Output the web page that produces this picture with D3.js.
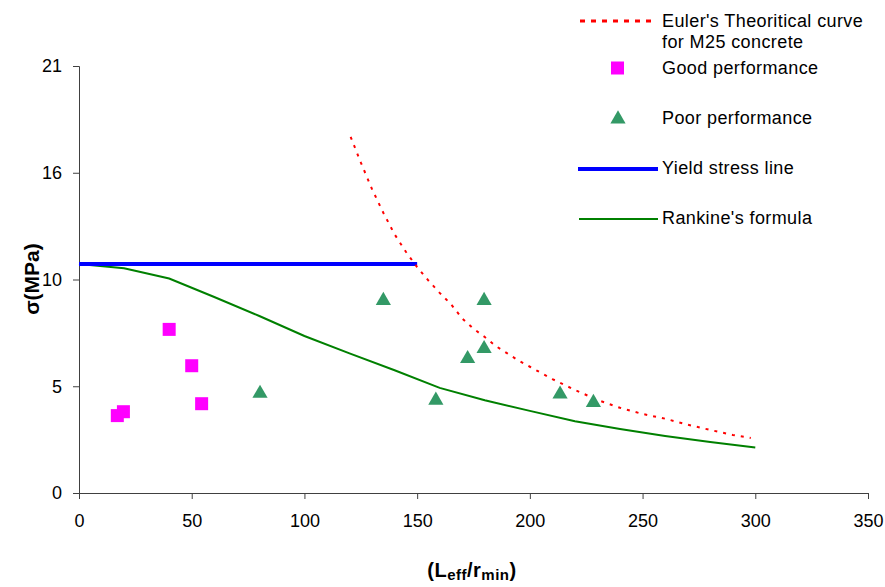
<!DOCTYPE html>
<html><head><meta charset="utf-8">
<script src="https://cdn.jsdelivr.net/npm/d3@7"></script>
<style>body{margin:0;background:#fff}svg{display:block;font-family:"Liberation Sans",Arial,sans-serif}</style>
</head><body>
<svg id="chart" width="885" height="587"></svg>
<script>
// ---- data ----
const eulerX = [120.5,125,130,135,140,145,150,155,160,165,170,175,180,185,190,195,200,210,220,230,240,250,260,270,280,290,298];
const eulerY = [17.35,16.1,14.8,13.65,12.6,11.75,11.0,10.35,9.75,9.2,8.5,8.0,7.6,7.15,6.8,6.45,6.15,5.55,5.02,4.53,4.15,3.85,3.62,3.33,3.07,2.83,2.68];
const goodX = [40, 50, 54.4, 19.7, 17];
const goodY = [7.97, 6.2, 4.35, 3.96, 3.77];
const poorX = [80.3, 135, 158.3, 172.4, 179.7, 179.7, 213.4, 228.2];
const poorY = [4.9, 9.42, 4.56, 6.59, 9.42, 7.08, 4.86, 4.45];
const yieldX = [0, 150];
const yieldY = [11.15, 11.15];
const rankX = [0, 20, 40, 60, 80, 100, 120, 140, 160, 180, 200, 220, 240, 260, 280, 300];
const rankY = [11.15, 10.95, 10.45, 9.55, 8.62, 7.65, 6.8, 5.98, 5.12, 4.52, 4.0, 3.5, 3.12, 2.78, 2.48, 2.22];
const xTicks = [0, 50, 100, 150, 200, 250, 300, 350];
const yTicks = [0, 5.2, 10.4, 15.6, 20.8];
const legendLabels = [["Euler's Theoritical curve", "for M25 concrete"], ["Good performance"], ["Poor performance"], ["Yield stress line"], ["Rankine's formula"]];

// ---- layout ----
const svg = d3.select("#chart");
const x = d3.scaleLinear().domain([0, 350]).range([79, 868]);
const y = d3.scaleLinear().domain([0, 20.8]).range([493, 66]);
const zip = (a, b) => a.map((v, i) => [v, b[i]]);
const line = d3.line().x(d => x(d[0])).y(d => y(d[1]));

// axes
const xa = svg.append("g").attr("transform", "translate(0,493)")
  .call(d3.axisBottom(x).tickValues(xTicks).tickSize(6).tickPadding(15).tickFormat(d3.format("d")));
const ya = svg.append("g").attr("transform", "translate(79,0)")
  .call(d3.axisLeft(y).tickValues(yTicks).tickSize(6).tickPadding(11).tickFormat(d => Math.round(d)));
[xa, ya].forEach(g => {
  g.select(".domain").attr("stroke", "#404040");
  g.selectAll(".tick line").attr("stroke", "#404040");
  g.selectAll("text").attr("font-size", 18).attr("fill", "#000").attr("font-family", '"Liberation Sans",Arial,sans-serif');
});

// series
svg.append("path").datum(zip(rankX, rankY)).attr("d", line)
  .attr("fill", "none").attr("stroke", "#008000").attr("stroke-width", 2);
svg.append("path").datum(zip(yieldX, yieldY)).attr("d", line)
  .attr("fill", "none").attr("stroke", "#0000FF").attr("stroke-width", 4);
svg.append("path").datum(zip(eulerX, eulerY)).attr("d", line)
  .attr("fill", "none").attr("stroke", "#FF0000").attr("stroke-width", 2).attr("stroke-dasharray", "3,6");

svg.append("g").selectAll("rect").data(zip(goodX, goodY)).join("rect")
  .attr("x", d => x(d[0]) - 6.5).attr("y", d => y(d[1]) - 6.5)
  .attr("width", 13).attr("height", 13).attr("fill", "#FF00FF");

const tri = d3.symbol().type(d3.symbolTriangle).size(100);
svg.append("g").selectAll("path").data(zip(poorX, poorY)).join("path")
  .attr("transform", d => `translate(${x(d[0])},${y(d[1]) + 1})`)
  .attr("d", tri).attr("fill", "#339966");

// axis titles
svg.append("text").attr("transform", "translate(39,279) rotate(-90)")
  .attr("text-anchor", "middle").attr("font-weight", "bold").attr("font-size", 21).text("σ(MPa)");
const xt = svg.append("text").attr("x", 472).attr("y", 577).attr("text-anchor", "middle")
  .attr("font-weight", "bold").attr("font-size", 20).attr("letter-spacing", 0.5);
xt.append("tspan").text("(L");
xt.append("tspan").attr("font-size", 15).attr("dy", 3).text("eff");
xt.append("tspan").attr("dy", -3).text("/r");
xt.append("tspan").attr("font-size", 15).attr("dy", 3).text("min");
xt.append("tspan").attr("dy", -3).text(")");

// legend
const lg = svg.append("g").attr("font-size", 18).attr("fill", "#000").attr("letter-spacing", 0.4);
const rowY = [21, 68, 118, 168, 218];
lg.append("line").attr("x1", 580).attr("x2", 656).attr("y1", rowY[0]).attr("y2", rowY[0])
  .attr("stroke", "#FF0000").attr("stroke-width", 3).attr("stroke-dasharray", "5,6");
lg.append("rect").attr("x", 611).attr("y", rowY[1] - 6.5).attr("width", 13).attr("height", 13).attr("fill", "#FF00FF");
lg.append("path").attr("transform", `translate(618,${rowY[2] + 1})`).attr("d", tri).attr("fill", "#339966");
lg.append("line").attr("x1", 578).attr("x2", 658).attr("y1", rowY[3] + 1).attr("y2", rowY[3] + 1)
  .attr("stroke", "#0000FF").attr("stroke-width", 4);
lg.append("line").attr("x1", 579).attr("x2", 658).attr("y1", rowY[4] + 1).attr("y2", rowY[4] + 1)
  .attr("stroke", "#008000").attr("stroke-width", 2);
legendLabels.forEach((lines, i) => {
  lines.forEach((t, j) => {
    lg.append("text").attr("x", 662).attr("y", rowY[i] + 6 + j * 21).text(t);
  });
});
</script>
</body></html>
